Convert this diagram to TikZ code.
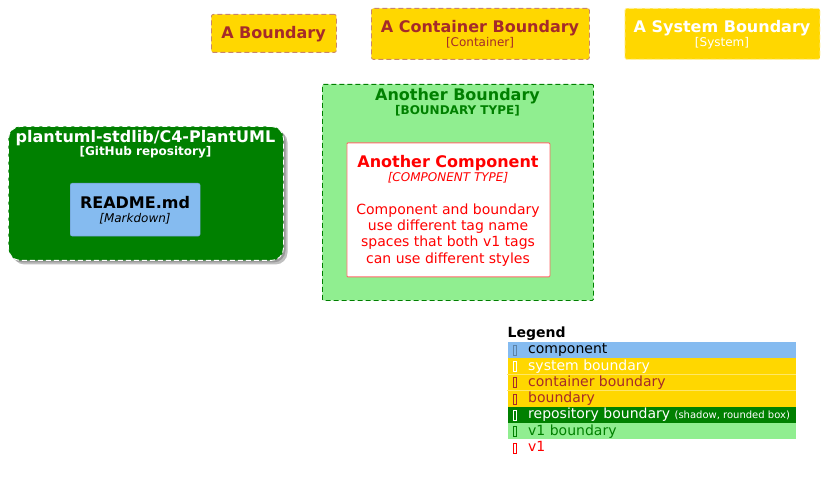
\documentclass[tikz,border=0pt]{standalone}
\usepackage{fontspec}
\setmainfont{DejaVu Sans}
\definecolor{gold}{HTML}{FFD700}
\definecolor{bbrown}{HTML}{A52A2A}
\definecolor{bborder}{HTML}{C9866A}
\definecolor{dgreen}{HTML}{008000}
\definecolor{lgreen}{HTML}{90EE90}
\definecolor{lblue}{HTML}{85BBF0}
\definecolor{cred}{HTML}{FF0000}
\newcommand{\myfs}[1]{\fontsize{#1}{#1}\selectfont}
\begin{document}
\begin{tikzpicture}[x=1pt,y=-1pt,
  box/.style={inner sep=0pt, anchor=north west, rounded corners=2pt},
  bdash/.style={dash pattern=on 5pt off 3pt},
  lbl/.style={inner sep=0pt, anchor=base},
  ttl/.style={lbl, font=\bfseries\myfs{16}},
  sub/.style={lbl, font=\myfs{12}},
  desc/.style={lbl, font=\myfs{14}},
  lrow/.style={inner sep=0pt, anchor=north west, minimum width=288.4pt, minimum height=16.3pt},
  ltxt/.style={inner sep=0pt, anchor=base west, font=\myfs{14}},
  glyph/.style={line width=0.45pt}
]
\useasboundingbox (0,0) rectangle (825,481);

% A Boundary
\node[box, fill=gold, draw=bborder, line width=0.8pt, bdash, minimum width=125pt, minimum height=38pt] (ab) at (211,14) {};
\node[ttl, text=bbrown] (abt) at (273.5,39) {A Boundary};

% A Container Boundary
\node[box, fill=gold, draw=bborder, line width=0.8pt, bdash, minimum width=218pt, minimum height=51pt] (acb) at (371,8) {};
\node[ttl, text=bbrown] (acbt) at (480,32.3) {A Container Boundary};
\node[sub, text=bbrown] (acbs) at (480,46.8) {[Container]};

% A System Boundary
\node[box, fill=gold, draw=white!60!gold, line width=0.8pt, bdash, minimum width=195pt, minimum height=51pt] (asb) at (624.5,8) {};
\node[ttl, text=white] (asbt) at (722,32.3) {A System Boundary};
\node[sub, text=white] (asbs) at (722,46.8) {[System]};

% repository boundary with shadow
\fill[black!25, rounded corners=12pt] (12.5,130.5) rectangle (287.5,264.5);
\fill[black!40, rounded corners=12pt] (10.5,128.5) rectangle (285.5,262.5);
\node[box, rounded corners=12pt, fill=dgreen, draw=white, line width=0.9pt, bdash, minimum width=275pt, minimum height=134pt] (repo) at (8,126) {};
\node[ttl, text=white] (repot) at (145.5,142.3) {plantuml-stdlib/C4-PlantUML};
\node[sub, text=white, font=\bfseries\myfs{12}] (repos) at (145.5,155.8) {[GitHub repository]};

% README
\node[box, fill=lblue, draw=lblue!80!black, line width=0.3pt, minimum width=130pt, minimum height=53pt] (readme) at (70,183) {};
\node[ttl, text=black] (readmet) at (135,208.3) {README.md};
\node[sub, text=black, font=\itshape\myfs{12}] (readmes) at (135,222.8) {[Markdown]};

% Another Boundary
\node[box, fill=lgreen, draw=dgreen, line width=0.8pt, bdash, rounded corners=1pt, minimum width=271pt, minimum height=216pt] (anb) at (322,84) {};
\node[ttl, text=dgreen] (anbt) at (457.5,100.7) {Another Boundary};
\node[sub, text=dgreen, font=\bfseries\myfs{12}] (anbs) at (457.5,114.2) {[BOUNDARY TYPE]};

% Another Component
\node[box, fill=white, draw=cred!60, line width=0.8pt, rounded corners=1pt, minimum width=203pt, minimum height=134pt] (comp) at (346.5,142.5) {};
\node[ttl, text=cred] (compt) at (448,167.3) {Another Component};
\node[sub, text=cred, font=\itshape\myfs{12}] (comps) at (448,181.7) {[COMPONENT TYPE]};
\node[desc, text=cred] (compd1) at (448,214.2) {Component and boundary};
\node[desc, text=cred] (compd2) at (448,230.5) {use different tag name};
\node[desc, text=cred] (compd3) at (448,246.8) {spaces that both v1 tags};
\node[desc, text=cred] (compd4) at (448,263.1) {can use different styles};

% Legend
\node[inner sep=0pt, anchor=base west, font=\bfseries\myfs{14}] (legt) at (507.5,337.5) {Legend};
\node[lrow, fill=lblue] (r1) at (507.3,341.3) {};
\node[lrow, fill=gold] (r2) at (507.3,357.6) {};
\node[lrow, fill=gold] (r3) at (507.3,373.9) {};
\node[lrow, fill=gold] (r4) at (507.3,390.2) {};
\node[lrow, fill=dgreen] (r5) at (507.3,406.5) {};
\node[lrow, fill=lgreen] (r6) at (507.3,422.8) {};
\node[lrow, fill=white] (r7) at (507.3,439.1) {};
\draw[white!40!gold, line width=0.3pt] (r3.north west) -- (r3.north east);
\draw[white!40!gold, line width=0.3pt] (r4.north west) -- (r4.north east);

\draw[glyph, draw=lblue!70!black] (513.3,345) rectangle (516.7,355);
\node[ltxt, text=black] (l1) at (528,353.7) {component};
\draw[glyph, draw=white] (513.3,361.3) rectangle (516.7,371.3);
\node[ltxt, text=white] (l2) at (528,370) {system boundary};
\draw[glyph, draw=bbrown] (513.3,377.6) rectangle (516.7,387.6);
\node[ltxt, text=bbrown] (l3) at (528,386.3) {container boundary};
\draw[glyph, draw=bbrown] (513.3,393.9) rectangle (516.7,403.9);
\node[ltxt, text=bbrown] (l4) at (528,402.6) {boundary};
\draw[glyph, draw=white] (513.3,410.2) rectangle (516.7,420.2);
\node[ltxt, text=white] (l5) at (528,418.9) {repository boundary \myfs{10}(shadow, rounded box)};
\draw[glyph, draw=dgreen] (513.3,426.5) rectangle (516.7,436.5);
\node[ltxt, text=dgreen] (l6) at (528,435.2) {v1 boundary};
\draw[glyph, draw=cred] (513.3,442.8) rectangle (516.7,452.8);
\node[ltxt, text=cred] (l7) at (528,451.5) {v1};
\end{tikzpicture}
\end{document}
